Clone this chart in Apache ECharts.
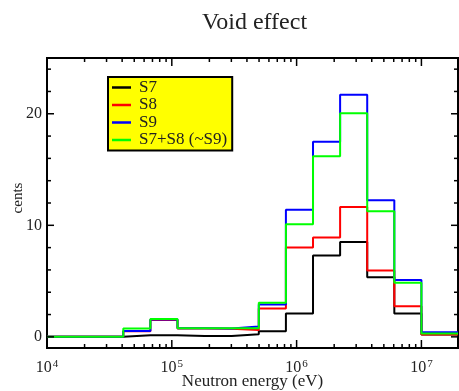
<!DOCTYPE html>
<html>
<head>
<meta charset="utf-8">
<script src="https://cdn.jsdelivr.net/npm/echarts@6/dist/echarts.min.js"></script>
<style>html,body{margin:0;padding:0;background:#fff;}#c{width:459px;height:391px;}</style>
</head>
<body>
<div id="c"></div>
<script>
// Bin edges (eV) of the energy groups
var edges = [1e4, 1.5034e4, 2.4788e4, 4.0868e4, 6.7379e4, 1.1109e5, 1.8316e5, 3.0197e5, 4.9787e5, 8.2085e5, 1.3534e6, 2.2313e6, 3.6788e6, 6.0653e6, 1.0e7, 1.964e7];
// Values per bin (cents)
var s7  = [0, 0, 0, 0.15, 0.15, 0.08, 0.08, 0.24, 0.5, 2.1, 7.3, 8.5, 5.35, 2.1, 0.2];
var s8  = [0, 0, 0, 0.5, 1.5, 0.75, 0.72, 0.62, 2.55, 8.0, 8.9, 11.65, 5.95, 2.75, 0.22];
var s9  = [0, 0, 0, 0.53, 1.55, 0.76, 0.75, 0.92, 2.9, 11.4, 17.5, 21.7, 12.25, 5.1, 0.42];
var s78 = [0, 0, 0, 0.75, 1.6, 0.78, 0.76, 0.78, 3.05, 10.1, 16.2, 20.05, 11.25, 4.85, 0.3];
var seriesNames = ['S7', 'S8', 'S9', 'S7+S8 (~S9)'];
var seriesColors = ['#000000', '#ff0000', '#0000ff', '#00ff00'];
// Tick values
var xMajorTicks = [1e4, 1e5, 1e6, 1e7];
var xMinorTicks = [2e4,3e4,4e4,5e4,6e4,7e4,8e4,9e4, 2e5,3e5,4e5,5e5,6e5,7e5,8e5,9e5, 2e6,3e6,4e6,5e6,6e6,7e6,8e6,9e6];
var yMajorTicks = [0, 10, 20];
var yMinorTicks = [2, 4, 6, 8, 12, 14, 16, 18, 22, 24];

var X_MIN = 1e4, X_MAX = 1.964e7, Y_MIN = -1, Y_MAX = 25;
var FONT = 'Liberation Serif';

function stepData(vals) {
  var d = vals.map(function (v, i) { return [edges[i], v]; });
  d.push([edges[edges.length - 1], vals[vals.length - 1]]);
  return d;
}
var allVals = [s7, s8, s9, s78];

var tickStyle = { stroke: '#000', lineWidth: 1.5 };
function xTickSeries(ticks, len) {
  return {
    type: 'custom', xAxisIndex: 0, yAxisIndex: 0, silent: true, clip: false, z: 5,
    data: ticks.map(function (t) { return [t, 0]; }),
    renderItem: function (params, api) {
      var v = api.value(0);
      var pb = api.coord([v, Y_MIN]);
      var pt = api.coord([v, Y_MAX]);
      return { type: 'group', children: [
        { type: 'line', shape: { x1: pb[0], y1: pb[1], x2: pb[0], y2: pb[1] - len }, style: tickStyle },
        { type: 'line', shape: { x1: pt[0], y1: pt[1], x2: pt[0], y2: pt[1] + len }, style: tickStyle }
      ] };
    }
  };
}
function yTickSeries(ticks, len) {
  return {
    type: 'custom', xAxisIndex: 0, yAxisIndex: 0, silent: true, clip: false, z: 5,
    data: ticks.map(function (t) { return [X_MIN, t]; }),
    renderItem: function (params, api) {
      var v = api.value(1);
      var pl = api.coord([X_MIN, v]);
      var pr = api.coord([X_MAX, v]);
      return { type: 'group', children: [
        { type: 'line', shape: { x1: pl[0], y1: pl[1], x2: pl[0] + len, y2: pl[1] }, style: tickStyle },
        { type: 'line', shape: { x1: pr[0], y1: pr[1], x2: pr[0] - len, y2: pr[1] }, style: tickStyle }
      ] };
    }
  };
}

var chart = echarts.init(document.getElementById('c'), null, { renderer: 'canvas' });
var lineSeries = seriesNames.map(function (n, i) {
  return {
    name: n, type: 'line', step: 'end', xAxisIndex: 0, yAxisIndex: 0,
    data: stepData(allVals[i]), symbol: 'none', z: 3,
    lineStyle: { color: seriesColors[i], width: 2 },
    itemStyle: { color: seriesColors[i] }
  };
});
chart.setOption({
  animation: false,
  backgroundColor: '#fff',
  title: {
    text: 'Void effect', left: 202, top: 11, padding: 0,
    textStyle: { fontFamily: FONT, fontSize: 24, fontWeight: 'normal', color: '#222', lineHeight: 24 }
  },
  grid: {
    left: 47, right: 1, top: 58, bottom: 43, outerBoundsMode: 'none',
    show: true, borderColor: '#000', borderWidth: 2, backgroundColor: 'transparent'
  },
  legend: {
    orient: 'vertical', left: 108, top: 77,
    data: seriesNames,
    icon: 'rect', itemWidth: 19, itemHeight: 2.5, itemGap: 0.5,
    backgroundColor: '#ffff00', borderColor: '#000', borderWidth: 2,
    padding: [2, 5, 2, 4],
    textStyle: { fontFamily: FONT, fontSize: 17, color: '#222', lineHeight: 17, padding: [0, 0, 0, 3] }
  },
  xAxis: {
    type: 'log', logBase: 10, min: X_MIN, max: X_MAX,
    axisLine: { show: false, onZero: false },
    axisTick: { show: false },
    splitLine: { show: false },
    axisLabel: {
      show: true, customValues: xMajorTicks, margin: 11,
      formatter: function (v) { return '{b|10}{s|' + Math.round(Math.log10(v)) + '}'; },
      rich: {
        b: { fontFamily: FONT, fontSize: 16, color: '#222', lineHeight: 18 },
        s: { fontFamily: FONT, fontSize: 11, color: '#222', verticalAlign: 'top', lineHeight: 18, padding: [0, 0, 6, 1] }
      }
    },
    name: 'Neutron energy (eV)', nameLocation: 'middle', nameGap: 25, nameMoveOverlap: false,
    nameTextStyle: { fontFamily: FONT, fontSize: 17, color: '#222', lineHeight: 17 }
  },
  yAxis: {
    type: 'value', min: Y_MIN, max: Y_MAX,
    axisLine: { show: false, onZero: false },
    axisTick: { show: false },
    splitLine: { show: false },
    axisLabel: { show: true, customValues: yMajorTicks, margin: 5, fontFamily: FONT, fontSize: 16, color: '#222' },
    name: 'cents', nameLocation: 'middle', nameRotate: 90, nameGap: 21, nameMoveOverlap: false,
    nameTextStyle: { fontFamily: FONT, fontSize: 15, color: '#222', lineHeight: 15, padding: [0, 0, 0, 10] }
  },
  series: lineSeries.concat([
    xTickSeries(xMajorTicks, 8),
    xTickSeries(xMinorTicks, 4),
    yTickSeries(yMajorTicks, 7),
    yTickSeries(yMinorTicks, 4)
  ])
});
</script>
</body>
</html>
